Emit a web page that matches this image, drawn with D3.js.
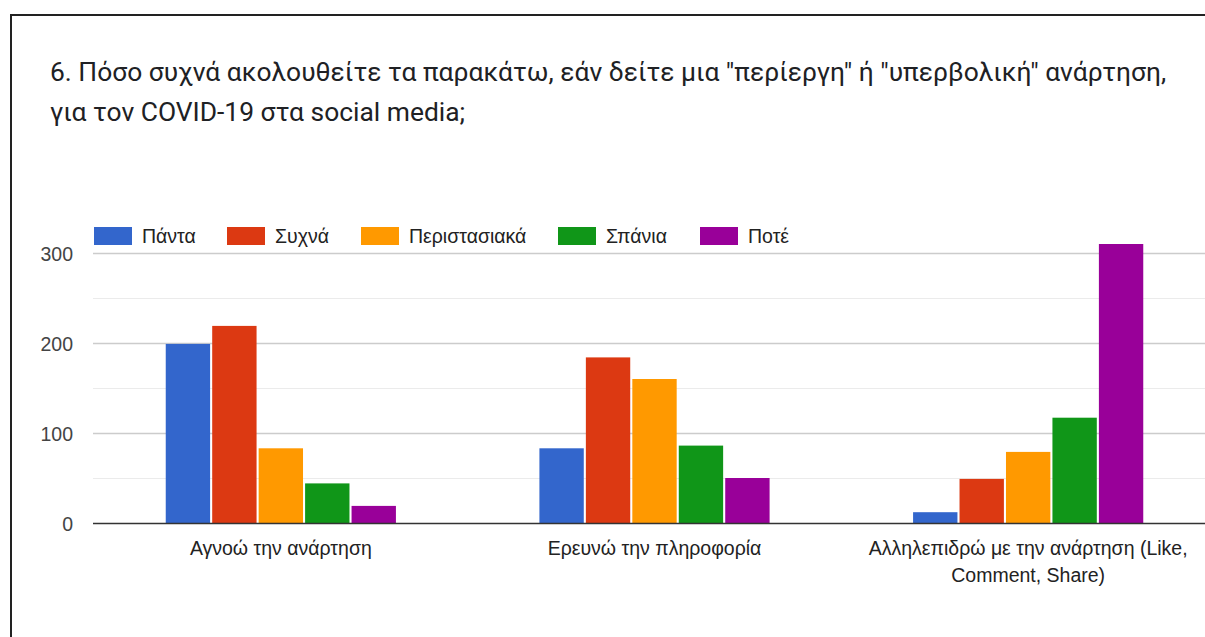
<!DOCTYPE html>
<html>
<head>
<meta charset="utf-8">
<script src="https://cdn.jsdelivr.net/npm/d3@7"></script>
<style>
  html, body { margin: 0; padding: 0; background: #fff; }
  svg { display: block; }
</style>
</head>
<body>
<svg id="chart" width="1205" height="637"></svg>
<script>
// Survey question 6: reactions to "strange" or "exaggerated" COVID-19 posts
const categories = [
  ["Αγνοώ την ανάρτηση"],
  ["Ερευνώ την πληροφορία"],
  ["Αλληλεπιδρώ με την ανάρτηση (Like,", "Comment, Share)"]
];
const seriesNames = ["Πάντα", "Συχνά", "Περιστασιακά", "Σπάνια", "Ποτέ"];
const seriesColors = ["#3366cc", "#dc3912", "#ff9900", "#109618", "#990099"];
const pantaValues = [199, 83, 12];
const sychnaValues = [219, 184, 49];
const peristasiakaValues = [83, 160, 79];
const spaniaValues = [44, 86, 117];
const poteValues = [19, 50, 310];
const seriesValues = [pantaValues, sychnaValues, peristasiakaValues, spaniaValues, poteValues];
const yTicks = [0, 100, 200, 300];
const yGrid = [50, 100, 150, 200, 250, 300];
const titleLines = [
  "6. Πόσο συχνά ακολουθείτε τα παρακάτω, εάν δείτε μια \"περίεργη\" ή \"υπερβολική\" ανάρτηση,",
  "για τον COVID-19 στα social media;"
];

const svg = d3.select("#chart");

// frame
svg.append("path")
  .attr("d", "M11,637 L11,15 L1205,15")
  .attr("fill", "none")
  .attr("stroke", "#222")
  .attr("stroke-width", 2);

// title
svg.append("g").selectAll("text")
  .data(titleLines)
  .join("text")
  .attr("x", 50)
  .attr("y", (d, i) => 81 + i * 40)
  .attr("font-family", "Roboto, sans-serif")
  .attr("font-size", 26.4)
  .attr("fill", "#202124")
  .text(d => d);

const plot = { left: 94, right: 1215, top: 253, bottom: 523 };

const x0 = d3.scaleBand()
  .domain(d3.range(categories.length))
  .range([plot.left, plot.right])
  .paddingInner(0.384)
  .paddingOuter(0.192);

const x1 = d3.scaleBand()
  .domain(d3.range(seriesNames.length))
  .range([0, x0.bandwidth()])
  .paddingInner(0.045);

const y = d3.scaleLinear().domain([0, 300]).range([plot.bottom, plot.top]);

// gridlines
svg.append("g").selectAll("line")
  .data(yGrid)
  .join("line")
  .attr("x1", plot.left - 1)
  .attr("x2", 1205)
  .attr("y1", d => Math.round(y(d)) + 0.5)
  .attr("y2", d => Math.round(y(d)) + 0.5)
  .attr("stroke", d => d % 100 === 0 ? "#cccccc" : "#ebebeb")
  .attr("stroke-width", d => d % 100 === 0 ? 1.5 : 1);

// y tick labels
const yAxis = d3.axisLeft(y).tickValues(yTicks).tickSize(0).tickPadding(0);
const yg = svg.append("g")
  .attr("transform", `translate(${plot.left - 21},0)`)
  .call(yAxis);
yg.select(".domain").remove();
yg.selectAll("text")
  .attr("font-family", "Liberation Sans, Arial, sans-serif")
  .attr("font-size", 19.5)
  .attr("fill", "#444")
  .attr("dy", "0.36em");

// bars
const groups = svg.append("g").selectAll("g")
  .data(categories.map((c, i) => i))
  .join("g")
  .attr("transform", i => `translate(${x0(i)},0)`);

groups.selectAll("rect")
  .data(i => seriesValues.map((vals, s) => ({ s, v: vals[i] })))
  .join("rect")
  .attr("x", d => x1(d.s))
  .attr("width", x1.bandwidth())
  .attr("y", d => y(d.v))
  .attr("height", d => y(0) - y(d.v))
  .attr("fill", d => seriesColors[d.s]);

// baseline
svg.append("line")
  .attr("x1", plot.left - 1)
  .attr("x2", 1205)
  .attr("y1", y(0) + 0.5)
  .attr("y2", y(0) + 0.5)
  .attr("stroke", "#333")
  .attr("stroke-width", 1.5);

// category labels
const xg = svg.append("g");
categories.forEach((lines, i) => {
  const t = xg.append("text")
    .attr("x", x0(i) + x0.bandwidth() / 2)
    .attr("y", 555)
    .attr("text-anchor", "middle")
    .attr("font-family", "Liberation Sans, Arial, sans-serif")
    .attr("font-size", 19.5)
    .attr("fill", "#222");
  lines.forEach((ln, k) => {
    t.append("tspan")
      .attr("x", x0(i) + x0.bandwidth() / 2)
      .attr("dy", k === 0 ? 0 : 27)
      .text(ln);
  });
});

// legend
const legendX = [94, 227, 361, 558, 700];
const lg = svg.append("g").selectAll("g")
  .data(seriesNames)
  .join("g")
  .attr("transform", (d, i) => `translate(${legendX[i]},227)`);
lg.append("rect")
  .attr("width", 38)
  .attr("height", 18)
  .attr("fill", (d, i) => seriesColors[i]);
lg.append("text")
  .attr("x", 48)
  .attr("y", 16)
  .attr("font-family", "Liberation Sans, Arial, sans-serif")
  .attr("font-size", 19.5)
  .attr("fill", "#222")
  .text(d => d);
</script>
</body>
</html>
